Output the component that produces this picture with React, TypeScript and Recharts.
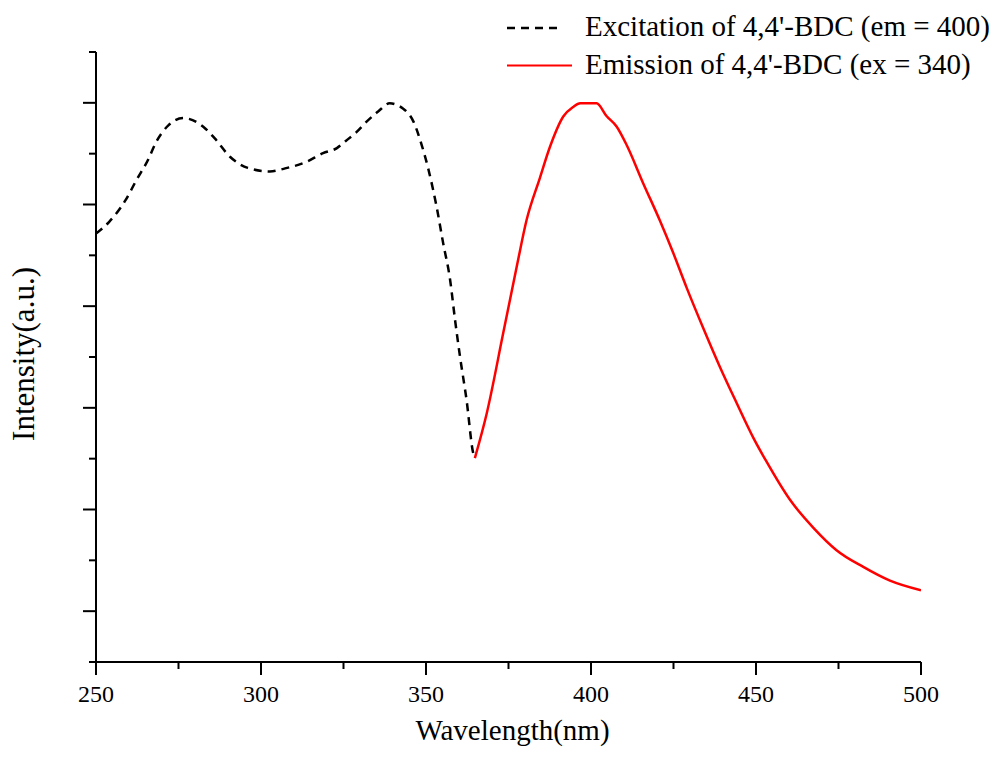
import React from 'react';
import { LineChart, Line, XAxis, YAxis } from 'recharts';

const excitationX = [250, 254, 259, 262, 266, 268, 272, 276.5, 282.5, 286, 290.6, 296, 302.7, 307.3, 313.8, 318.8, 323, 325.5, 329, 332, 335.5, 339, 343, 346.2, 348.7, 350.7, 353.2, 355.2, 357.3, 358.8, 360.3, 362.3, 364.3, 364.8];
const excitationY = [8.43, 8.66, 9.09, 9.45, 9.91, 10.2, 10.56, 10.7, 10.53, 10.3, 9.94, 9.72, 9.65, 9.71, 9.84, 10.01, 10.11, 10.24, 10.43, 10.63, 10.83, 10.99, 10.89, 10.63, 10.17, 9.7, 8.96, 8.24, 7.52, 6.73, 6.01, 5.15, 4.11, 4.01];

const emissionX = [364.8, 368.4, 373.4, 377.5, 380.5, 384.5, 387.6, 391.6, 394.6, 396.7, 401.7, 404.7, 407.8, 410.8, 415.8, 420.9, 424.9, 429, 434, 439.1, 444.1, 449.2, 453.2, 460.3, 467.4, 474.4, 482.5, 490.6, 500];
const emissionY = [4.01, 4.89, 6.47, 7.78, 8.7, 9.52, 10.14, 10.73, 10.92, 10.99, 10.99, 10.74, 10.53, 10.17, 9.42, 8.68, 8.05, 7.36, 6.57, 5.8, 5.1, 4.41, 3.94, 3.19, 2.64, 2.2, 1.87, 1.6, 1.41];

const xTicks = [250, 275, 300, 325, 350, 375, 400, 425, 450, 475, 500];
const xMajorLabels = [250, 300, 350, 400, 450, 500];
const yTicks = [0, 1, 2, 3, 4, 5, 6, 7, 8, 9, 10, 11, 12];
const yMajor = [1, 3, 5, 7, 9, 11];

const excitationName = "Excitation of 4,4'-BDC (em = 400)";
const emissionName = "Emission of 4,4'-BDC (ex = 340)";
const xTitle = 'Wavelength(nm)';
const yTitle = 'Intensity(a.u.)';

const excitationData = excitationX.map((x, i) => ({ x, y: excitationY[i] }));
const emissionData = emissionX.map((x, i) => ({ x, y: emissionY[i] }));

const FONT = "'Liberation Serif', 'Times New Roman', serif";

const renderXTick = (props: any) => {
  const { x, y, payload } = props;
  const major = xMajorLabels.includes(payload.value);
  return (
    <g key={`xt-${payload.value}`}>
      <line x1={x} x2={x} y1={y} y2={y + (major ? 13 : 7)} stroke="#000" strokeWidth={2} />
      {major && (
        <text
          x={x}
          y={y + 40}
          textAnchor="middle"
          fontFamily={FONT}
          fontSize={24}
          fill="#000"
          stroke="none"
        >
          {String(payload.value)}
        </text>
      )}
    </g>
  );
};

const renderYTick = (props: any) => {
  const { x, y, payload } = props;
  const major = yMajor.includes(payload.value);
  return <line key={`yt-${payload.value}`} x1={x - (major ? 13 : 7)} x2={x} y1={y} y2={y} stroke="#000" strokeWidth={2} />;
};

const LegendBox = () => (
  <svg width={500} height={90} style={{ position: 'absolute', left: 500, top: 0, display: 'block' }}>
    <line x1={7} x2={62} y1={28} y2={28} stroke="#000" strokeWidth={2.5} strokeDasharray="8 6" />
    <text x={85} y={36} style={{ fontFamily: FONT, fontSize: 29 }} fill="#000">{excitationName}</text>
    <line x1={7} x2={72} y1={65.5} y2={65.5} stroke="#ff0000" strokeWidth={2} />
    <text x={85} y={73.5} style={{ fontFamily: FONT, fontSize: 29 }} fill="#000">{emissionName}</text>
  </svg>
);

export default function App() {
  return (
    <div style={{ position: 'absolute', left: 0, top: 0, width: 1004, height: 760, background: '#fff', fontFamily: FONT }}>
      <LineChart width={1004} height={760} margin={{ top: 52, right: 83, bottom: 38, left: 36 }}>
        <XAxis
          type="number"
          dataKey="x"
          domain={[250, 500]}
          ticks={xTicks}
          interval={0}
          allowDataOverflow
          height={60}
          tickSize={0}
          tickMargin={0}
          tickLine={false}
          tick={renderXTick}
          axisLine={{ stroke: '#000', strokeWidth: 2 }}
          label={(p: any) => {
            const vb = p.viewBox;
            return (
              <text x={vb.x + vb.width / 2 + 4} y={vb.y + 78} textAnchor="middle" style={{ fontFamily: FONT, fontSize: 29 }} fill="#000">
                {xTitle}
              </text>
            );
          }}
        />
        <YAxis
          type="number"
          dataKey="y"
          domain={[0, 12]}
          ticks={yTicks}
          interval={0}
          width={60}
          tickSize={0}
          tickMargin={0}
          tickLine={false}
          tick={renderYTick}
          axisLine={{ stroke: '#000', strokeWidth: 2 }}
          label={(p: any) => {
            const vb = p.viewBox;
            const cx = 34;
            const cy = vb.y + vb.height / 2 - 3;
            return (
              <text x={cx} y={cy} transform={`rotate(-90, ${cx}, ${cy})`} textAnchor="middle" style={{ fontFamily: FONT, fontSize: 31 }} fill="#000">
                {yTitle}
              </text>
            );
          }}
        />
        <Line
          data={excitationData}
          dataKey="y"
          name={excitationName}
          type="monotone"
          stroke="#000"
          strokeWidth={2.5}
          strokeDasharray="8 6"
          dot={false}
          activeDot={false}
          isAnimationActive={false}
        />
        <Line
          data={emissionData}
          dataKey="y"
          name={emissionName}
          type="monotone"
          stroke="#ff0000"
          strokeWidth={2.5}
          dot={false}
          activeDot={false}
          isAnimationActive={false}
        />
      </LineChart>
      <LegendBox />
    </div>
  );
}
